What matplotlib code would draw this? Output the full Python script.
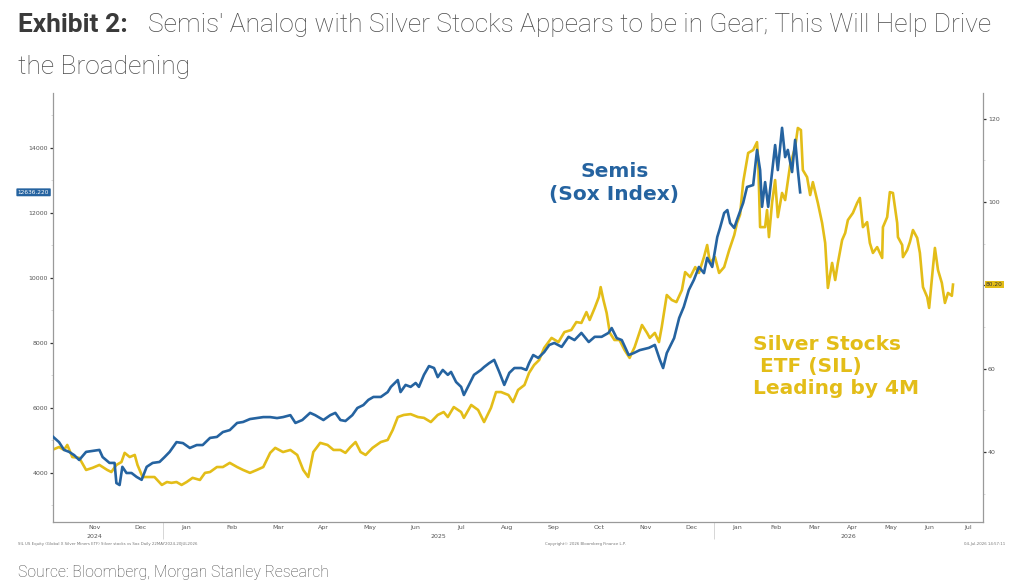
import numpy as np
import matplotlib
matplotlib.use('Agg')
import matplotlib.pyplot as plt

# x values are months since 1 Oct 2024
sox_month = [0.58, 0.73, 0.84, 0.95, 1.06, 1.17, 1.32, 1.46, 1.61, 1.68, 1.83, 1.94, 1.98, 2.05, 2.11, 2.20,
             2.31, 2.42, 2.53, 2.64, 2.77, 2.92, 3.03, 3.14, 3.29, 3.43, 3.58, 3.73, 3.86, 4.02, 4.17, 4.30,
             4.45, 4.61, 4.74, 4.89, 5.04, 5.18, 5.33, 5.48, 5.61, 5.77, 5.88, 6.03, 6.20, 6.31, 6.49, 6.64,
             6.75, 6.86, 6.97, 7.12, 7.23, 7.36, 7.47, 7.58, 7.74, 7.89, 7.96, 8.11, 8.17, 8.28, 8.39, 8.50,
             8.57, 8.68, 8.79, 8.90, 8.98, 9.09, 9.20, 9.27, 9.38, 9.49, 9.55, 9.66, 9.77, 9.92, 9.99, 10.10,
             10.21, 10.32, 10.43, 10.54, 10.65, 10.80, 10.91, 10.97, 11.06, 11.17, 11.30, 11.41, 11.52, 11.68,
             11.83, 11.96, 12.11, 12.27, 12.40, 12.55, 12.70, 12.77, 12.88, 12.99, 13.14, 13.25, 13.38, 13.58,
             13.71, 13.82, 13.89, 13.97, 14.13, 14.24, 14.34, 14.45, 14.56, 14.67, 14.78, 14.85, 14.96, 15.07,
             15.13, 15.22, 15.29, 15.35, 15.44, 15.50, 15.66, 15.76, 15.92, 16.02, 16.10, 16.15, 16.23, 16.31,
             16.41, 16.49, 16.56, 16.67, 16.75, 16.82, 16.93, 17.01, 17.08, 17.14]
sox_value = [5140, 4950, 4710, 4650, 4550, 4400, 4650, 4680, 4710, 4490, 4310, 4310, 3690, 3630, 4190, 4000,
             4000, 3880, 3790, 4190, 4310, 4340, 4490, 4650, 4950, 4920, 4770, 4860, 4860, 5080, 5110, 5260,
             5320, 5540, 5570, 5660, 5690, 5720, 5720, 5690, 5720, 5780, 5540, 5630, 5850, 5780, 5630, 5780,
             5850, 5630, 5600, 5780, 6000, 6090, 6250, 6340, 6340, 6490, 6650, 6860, 6490, 6710, 6650, 6770,
             6650, 7020, 7290, 7230, 6950, 7170, 7020, 7110, 6800, 6650, 6400, 6710, 7020, 7170, 7260, 7380,
             7480, 7110, 6710, 7080, 7230, 7230, 7170, 7380, 7630, 7540, 7720, 7940, 8000, 7880,
             8190, 8090, 8310, 8030, 8190, 8190, 8310, 8460, 8150, 8090, 7630, 7690, 7780, 7850,
             7940, 7480, 7230, 7690, 8150, 8770, 9110, 9630, 9940, 10340, 10150, 10620, 10340, 11260,
             11540, 12000, 12090, 11690, 11540, 11790, 12310, 12800, 12860, 13940, 13320, 12190, 12950, 12190,
             13230, 14090, 13320, 14620, 13720, 13940, 13260, 14250, 13320, 12636.22]

sil_month = [0.58, 0.73, 0.84, 0.91, 1.02, 1.17, 1.32, 1.46, 1.61, 1.78, 1.87, 1.98, 2.09, 2.16, 2.27, 2.38,
             2.44, 2.55, 2.70, 2.81, 2.97, 3.08, 3.18, 3.29, 3.40, 3.51, 3.64, 3.80, 3.91, 4.02, 4.17, 4.30,
             4.45, 4.61, 4.74, 4.89, 5.04, 5.18, 5.33, 5.44, 5.61, 5.77, 5.92, 6.05, 6.16, 6.27, 6.42, 6.58,
             6.71, 6.86, 6.97, 7.08, 7.19, 7.30, 7.41, 7.56, 7.74, 7.89, 8.00, 8.11, 8.24, 8.39, 8.55, 8.68,
             8.83, 8.98, 9.11, 9.20, 9.33, 9.49, 9.55, 9.71, 9.86, 9.99, 10.14, 10.25, 10.36, 10.52, 10.62,
             10.73, 10.87, 10.97, 11.08, 11.19, 11.30, 11.46, 11.61, 11.74, 11.89, 12.00, 12.11, 12.22, 12.29,
             12.40, 12.49, 12.53, 12.59, 12.66, 12.73, 12.83, 12.94, 13.05, 13.16, 13.27, 13.43, 13.54, 13.60,
             13.71, 13.80, 13.86, 13.97, 14.08, 14.18, 14.30, 14.37, 14.48, 14.59, 14.67, 14.78, 14.85, 14.91,
             15.02, 15.11, 15.22, 15.33, 15.44, 15.50, 15.58, 15.66, 15.79, 15.92, 16.02, 16.05, 16.10, 16.23,
             16.28, 16.33, 16.41, 16.49, 16.56, 16.67, 16.75, 16.88, 17.01, 17.08, 17.16, 17.21, 17.32, 17.40,
             17.47, 17.60, 17.71, 17.79, 17.86, 17.97, 18.05, 18.12, 18.23, 18.31, 18.38, 18.51, 18.62, 18.69,
             18.77, 18.88, 18.95, 19.03, 19.14, 19.27, 19.29, 19.40, 19.47, 19.55, 19.66, 19.68, 19.79, 19.81,
             19.92, 19.99, 20.07, 20.18, 20.25, 20.33, 20.44, 20.49, 20.59, 20.64, 20.72, 20.82, 20.90, 20.98,
             21.08, 21.11]
sil_value = [40.5, 41.2, 40.5, 41.7, 38.8, 38.6, 35.7, 36.2, 36.9, 35.7, 35.2, 36.9, 37.6, 39.8, 38.8, 39.3,
             36.9, 34.0, 34.0, 34.0, 32.1, 32.8, 32.6, 32.8, 32.1, 32.8, 33.8, 33.3, 35.0, 35.2, 36.4, 36.4,
             37.4, 36.4, 35.7, 35.0, 35.7, 36.4, 39.8, 41.0, 40.0, 40.5, 39.3, 35.7, 34.0, 40.0, 42.2, 41.7,
             40.5, 40.5, 39.8, 41.2, 42.4, 40.0, 39.3, 41.0, 42.4, 42.9, 45.3, 48.4, 48.9, 49.1, 48.4, 48.2,
             47.2, 48.9, 49.6, 48.4, 50.8, 49.6, 48.2, 51.3, 50.1, 47.2, 50.6, 54.4, 54.4, 53.7, 52.0,
             54.9, 56.1, 59.0, 60.9, 62.1, 65.0, 67.4, 66.4, 68.8, 69.3, 71.2, 71.0, 73.6, 71.7,
             74.6, 77.2, 79.6, 76.5, 73.4, 68.6, 66.9, 66.9, 64.5, 62.6, 65.2, 70.5, 68.6, 67.4,
             68.6, 66.4, 70.0, 77.7, 76.5, 76.0, 78.9, 83.2, 82.0, 84.4, 83.0, 86.8, 89.7, 85.4,
             86.8, 83.0, 84.4, 88.5, 92.1, 95.0, 97.0, 104.8, 111.8, 112.5, 114.4, 110.0, 94.0, 94.0,
             98.1, 91.6, 99.8, 105.3, 96.4, 102.2, 100.5, 108.9, 113.2, 117.8, 117.3, 107.7, 106.0, 101.7,
             104.8, 99.8, 95.0, 90.2, 79.4, 85.4, 81.3, 85.4, 90.9, 92.6, 95.7, 97.4, 99.8, 101.0,
             94.0, 95.2, 90.2, 87.8, 89.2, 86.6, 94.0, 96.4, 102.4, 102.2, 95.0, 91.6, 89.7, 86.8,
             88.5, 90.4, 93.3, 91.4, 87.8, 79.6, 77.2, 74.6, 84.4, 89.0, 83.7, 80.6, 75.8, 78.2,
             77.5, 80.2]

month_labels = ['Nov', 'Dec', 'Jan', 'Feb', 'Mar', 'Apr', 'May', 'Jun', 'Jul', 'Aug', 'Sep', 'Oct', 'Nov', 'Dec',
                'Jan', 'Feb', 'Mar', 'Apr', 'May', 'Jun', 'Jul']
year_labels = ['2024', '2025', '2026']
left_ticks = [4000, 6000, 8000, 10000, 12000, 14000]
right_ticks = [40, 60, 80, 100, 120]

BLUE = '#2563a0'
GOLD = '#e3bd18'
GREY = '#4a4a4a'

# bloomberg squeezes the months of 2026
BREAK = 15.5
RATIO = 38.5 / 45.9

def fwd(m):
    m = np.asarray(m, dtype=float)
    return np.where(m <= BREAK, m, BREAK + (m - BREAK) * RATIO)

def inv(u):
    u = np.asarray(u, dtype=float)
    return np.where(u <= BREAK, u, BREAK + (u - BREAK) / RATIO)

fig = plt.figure(figsize=(10.24, 5.86), dpi=100)
ax1 = fig.add_axes([0.0518, 0.1092, 0.9082, 0.7321])
ax1.set_xscale('function', functions=(fwd, inv))
ax2 = ax1.twinx()

ax1.plot(sox_month, sox_value, color=BLUE, lw=1.9, zorder=3)
ax2.plot(sil_month, sil_value, color=GOLD, lw=1.9, zorder=2)
ax1.set_zorder(ax2.get_zorder() + 1)
ax1.patch.set_visible(False)

ax1.set_xlim(0.60, 21.89)
ax1.set_ylim(2492, 15692)
ax2.set_ylim(23.2, 126.2)

for ax in (ax1, ax2):
    for side in ('top', 'left', 'right', 'bottom'):
        ax.spines[side].set_visible(False)
ax1.spines['left'].set_visible(True)
ax1.spines['bottom'].set_visible(True)
ax2.spines['right'].set_visible(True)
for sp in (ax1.spines['left'], ax1.spines['bottom'], ax2.spines['right']):
    sp.set_color('#9a9a9a')
    sp.set_linewidth(0.9)

ax1.set_yticks(left_ticks)
ax1.set_yticks(np.arange(3000, 15001, 1000), minor=True)
ax1.tick_params(axis='y', which='major', direction='out', length=2.5, width=0.9, color='#333333',
                labelsize=4.5, labelcolor='#555555', pad=1)
ax1.tick_params(axis='y', which='minor', direction='out', length=1.5, width=0.5, color='#cccccc')
ax2.set_yticks(right_ticks)
# the 80 label sits under the last-value tag
ax2.set_yticklabels(['' if t == 80 else str(t) for t in right_ticks])
ax2.set_yticks(np.arange(30, 121, 10), minor=True)
ax2.tick_params(axis='y', which='major', direction='out', length=2.5, width=0.9, color='#333333',
                labelsize=4.5, labelcolor='#555555', pad=1)
ax2.tick_params(axis='y', which='minor', direction='out', length=1.5, width=0.5, color='#cccccc')

month_pos = np.arange(1.5, 1.5 + len(month_labels))
ax1.set_xticks(month_pos)
ax1.set_xticklabels(month_labels)
ax1.set_xticks([3, 15], minor=True)
ax1.tick_params(axis='x', which='major', length=0, labelsize=4.5, labelcolor='#555555', pad=2)
ax1.tick_params(axis='x', which='minor', direction='out', length=12, width=0.6, color='#d0d0d0')

xt = ax1.get_xaxis_transform()
for pos, lab in zip([1.5, 9.0, 18.4], year_labels):
    ax1.text(pos, -0.027, lab, transform=xt, ha='center', va='top', fontsize=4.5, color='#555555')

# last-value tags
yt1 = ax1.get_yaxis_transform()
ax1.text(-0.004, sox_value[-1], '%.3f' % sox_value[-1], transform=yt1, ha='right', va='center',
         fontsize=4.2, color='white', clip_on=False,
         bbox=dict(boxstyle='round,pad=0.25,rounding_size=0.15', fc=BLUE, ec='none'))
yt2 = ax2.get_yaxis_transform()
ax2.text(1.003, sil_value[-1], '%.2f' % sil_value[-1], transform=yt2, ha='left', va='center',
         fontsize=4.2, color='#333333', clip_on=False,
         bbox=dict(boxstyle='square,pad=0.2', fc=GOLD, ec='none'))

# annotations
fig.text(0.600, 1 - 183 / 586, 'Semis\n(Sox Index)', ha='center', va='center', fontsize=14.5,
         fontweight='bold', color=BLUE, family='DejaVu Sans', linespacing=1.25)
fig.text(0.735, 0.375, 'Silver Stocks\n ETF (SIL)\nLeading by 4M', ha='left', va='center',
         fontsize=14.5, fontweight='bold', color=GOLD, family='DejaVu Sans', linespacing=1.2)

# title and source
fig.text(0.0176, 1 - 32 / 586, 'Exhibit 2:', ha='left', va='baseline', fontsize=19,
         fontweight='bold', color='#3a3a3a', family='Roboto')
fig.text(0.1445, 1 - 32 / 586, "Semis' Analog with Silver Stocks Appears to be in Gear; This Will Help Drive",
         ha='left', va='baseline', fontsize=19, fontweight='light', color=GREY, family='Roboto')
fig.text(0.0176, 1 - 74 / 586, 'the Broadening', ha='left', va='baseline', fontsize=19,
         fontweight='light', color=GREY, family='Roboto')
fig.text(0.0176, 1 - 577 / 586, 'Source: Bloomberg, Morgan Stanley Research', ha='left', va='baseline',
         fontsize=11.3, fontweight='light', color=GREY, family='Roboto')

# bloomberg footer
fig.text(0.0176, 1 - 544 / 586, 'SIL US Equity (Global X Silver Miners ETF) Silver stocks vs Sox Daily 22MAY2024-20JUL2026',
         ha='left', va='center', fontsize=2.8, color='#777777')
fig.text(0.532, 1 - 544 / 586, 'Copyright\u00a9 2026 Bloomberg Finance L.P.', ha='left', va='center',
         fontsize=2.8, color='#777777')
fig.text(0.982, 1 - 544 / 586, '04-Jul-2026 14:57:11', ha='right', va='center', fontsize=2.8, color='#777777')

fig.savefig('out.png', dpi=100, facecolor='white')
